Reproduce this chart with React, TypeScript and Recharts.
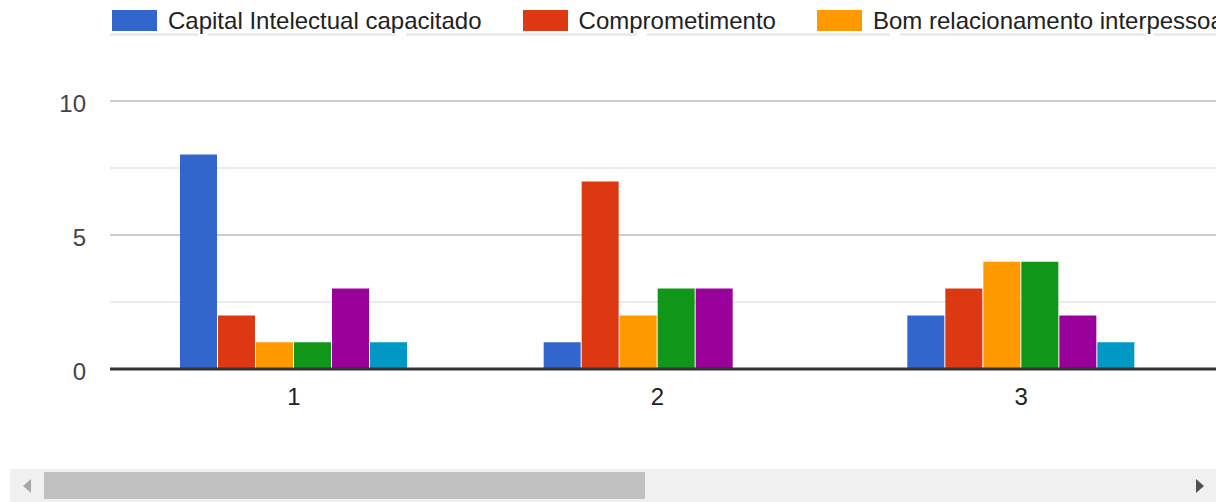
import React from 'react';
import { BarChart, Bar, XAxis, YAxis, CartesianGrid } from 'recharts';

// categories on the x axis
const categories = ['1', '2', '3'];

// series values, one per category
const capitalIntelectual = [8, 1, 2];
const comprometimento = [2, 7, 3];
const relacionamento = [1, 2, 4];
const serieVerde = [1, 3, 4];
const serieRoxa = [3, 3, 2];
const serieCiano = [1, 0, 1];

const yTicks = [0, 2.5, 5, 7.5, 10];
const legendLabels = ['Capital Intelectual capacitado', 'Comprometimento', 'Bom relacionamento interpessoal'];

const colors = ['#3366cc', '#dc3912', '#ff9900', '#109618', '#990099', '#0099c6'];
const seriesValues = [capitalIntelectual, comprometimento, relacionamento, serieVerde, serieRoxa, serieCiano];

const data = categories.map((c, i) => {
  const row: Record<string, string | number> = { name: c };
  seriesValues.forEach((vals, s) => {
    row[`s${s}`] = vals[i];
  });
  return row;
});

const FONT = 'Arial, "Liberation Sans", sans-serif';

const YTick = (props: any) => {
  const v = props.payload.value;
  if (v % 5 !== 0) return null;
  return (
    <text x={props.x} y={props.y} dy={10.5} textAnchor="end" fontSize={24} fill="#444" fontFamily={FONT}>
      {v}
    </text>
  );
};

const XTick = (props: any) => (
  <text x={props.x} y={props.y} dy={36} textAnchor="middle" fontSize={24} fill="#222" fontFamily={FONT}>
    {props.payload.value}
  </text>
);

const GridLine = (props: any) => {
  const major = props.index % 2 === 0;
  return (
    <line
      x1={props.x1}
      x2={props.x2}
      y1={props.y1}
      y2={props.y2}
      stroke={major ? '#cccccc' : '#ebebeb'}
      strokeWidth={2}
    />
  );
};

const underline = [
  [110, 198],
  [208, 396],
  [406, 637],
  [647, 890],
  [900, 1146],
  [1153, 1216],
];

const Legend = () => (
  <div
    style={{
      position: 'absolute',
      left: 0,
      top: 0,
      width: 1216,
      height: 40,
      overflow: 'hidden',
      whiteSpace: 'nowrap',
      zIndex: 2,
    }}
  >
    <div style={{ position: 'absolute', left: 112, top: 10, display: 'flex' }}>
      {legendLabels.map((label, i) => (
        <div key={label} style={{ display: 'flex', alignItems: 'flex-start', marginRight: 41, flexShrink: 0 }}>
          <div style={{ width: 45, height: 21, background: colors[i], marginRight: 11 }} />
          <span style={{ fontSize: 24, lineHeight: '21px', color: '#222', fontFamily: FONT }}>{label}</span>
        </div>
      ))}
    </div>
    {underline.map(([a, b]) => (
      <div key={a} style={{ position: 'absolute', left: a, top: 33, width: b - a, height: 3, background: '#ebebeb' }} />
    ))}
  </div>
);

const Scrollbar = () => (
  <div style={{ position: 'absolute', left: 10, top: 469, width: 1206, height: 33, background: '#f0f0f0' }}>
    <div style={{ position: 'absolute', left: 34, top: 3, width: 601, height: 27, background: '#c0c0c0' }} />
    <div
      style={{
        position: 'absolute',
        left: 13,
        top: 10,
        width: 0,
        height: 0,
        borderTop: '7px solid transparent',
        borderBottom: '7px solid transparent',
        borderRight: '8px solid #a8a8a8',
      }}
    />
    <div
      style={{
        position: 'absolute',
        left: 1186,
        top: 10,
        width: 0,
        height: 0,
        borderTop: '7px solid transparent',
        borderBottom: '7px solid transparent',
        borderLeft: '8px solid #505050',
      }}
    />
  </div>
);

export default function App() {
  return (
    <div
      style={{
        position: 'absolute',
        left: 0,
        top: 0,
        width: 1228,
        height: 502,
        background: '#fff',
        overflow: 'hidden',
        fontFamily: FONT,
      }}
    >
      <div style={{ position: 'absolute', left: 0, top: 0, width: 1216, height: 440, overflow: 'hidden' }}>
        <BarChart
          width={1216}
          height={440}
          data={data}
          margin={{ top: 101, right: 0, bottom: 31, left: 0 }}
          barSize={37}
          barGap={1}
        >
          <CartesianGrid vertical={false} horizontal={GridLine} />
          <XAxis
            dataKey="name"
            height={40}
            tickSize={0}
            tickMargin={0}
            tick={XTick}
            padding={{ left: 2, right: 13 }}
            axisLine={{ stroke: '#333', strokeWidth: 3 }}
          />
          <YAxis
            width={110}
            domain={[0, 10]}
            ticks={yTicks}
            interval={0}
            tickSize={0}
            tickMargin={24}
            tick={YTick}
            axisLine={false}
            tickLine={false}
          />
          {seriesValues.map((_, s) => (
            <Bar key={s} dataKey={`s${s}`} fill={colors[s]} isAnimationActive={false} />
          ))}
        </BarChart>
      </div>
      <Legend />
      <Scrollbar />
    </div>
  );
}
